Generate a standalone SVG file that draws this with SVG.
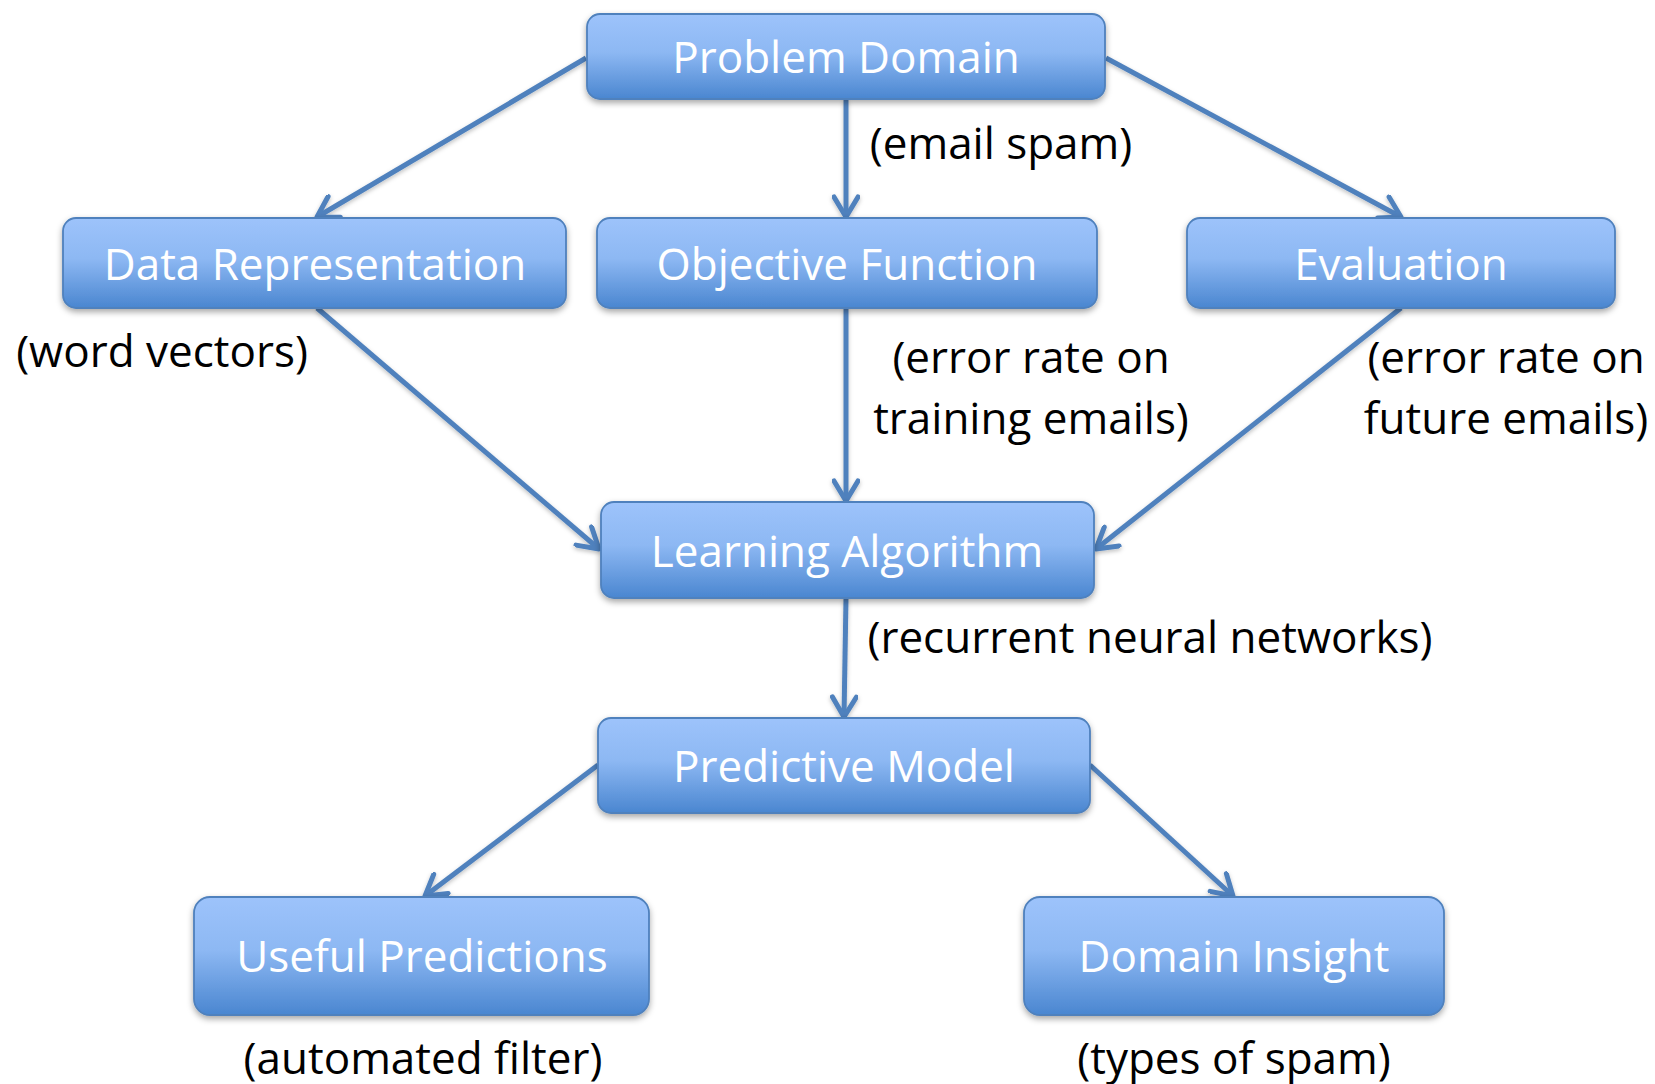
<svg xmlns="http://www.w3.org/2000/svg" width="1655" height="1084" viewBox="0 0 1655 1084">
  <defs>
    <linearGradient id="boxFill" x1="0" y1="0" x2="0" y2="1">
      <stop offset="0" stop-color="#9dc3fb"/>
      <stop offset="0.45" stop-color="#8db8f3"/>
      <stop offset="1" stop-color="#4a86d0"/>
    </linearGradient>
    <filter id="shadow" x="-10%" y="-20%" width="120%" height="150%">
      <feDropShadow dx="0" dy="3" stdDeviation="3" flood-color="#000" flood-opacity="0.35"/>
    </filter>
    <filter id="lineShadow" x="-20%" y="-20%" width="140%" height="140%">
      <feDropShadow dx="0" dy="2" stdDeviation="2" flood-color="#000" flood-opacity="0.25"/>
    </filter>
    <marker id="arrow" markerUnits="userSpaceOnUse" viewBox="0 0 28 28" markerWidth="28" markerHeight="28" refX="24" refY="14" orient="auto">
      <path d="M4,2 L24,14 L4,26" fill="none" stroke="#4f81bd" stroke-width="5" stroke-linecap="round" stroke-linejoin="round"/>
    </marker>
    <style>
      .box { fill: url(#boxFill); stroke: #4f81bd; stroke-width: 1.8; filter: url(#shadow); }
      .title { font-family: "Open Sans", "Noto Sans", sans-serif; font-size: 44px; fill: #ffffff; text-anchor: middle; }
      .note { font-family: "Open Sans", "Noto Sans", sans-serif; font-size: 44px; fill: #000000; text-anchor: middle; }
      .edge { fill: none; stroke: #4f81bd; stroke-width: 5; marker-end: url(#arrow); }
    </style>
  </defs>

  <rect width="1655" height="1084" fill="#ffffff"/>

  <!-- connectors -->
  <g id="connectors" filter="url(#lineShadow)">
    <line class="edge" x1="586" y1="58" x2="317" y2="217"/>
    <line class="edge" x1="846" y1="99" x2="846" y2="217"/>
    <line class="edge" x1="1106" y1="58" x2="1401" y2="217"/>
    <line class="edge" x1="317" y1="308" x2="599" y2="549"/>
    <line class="edge" x1="846" y1="308" x2="846" y2="501"/>
    <line class="edge" x1="1401" y1="308" x2="1096" y2="549"/>
    <line class="edge" x1="846" y1="598" x2="844" y2="717"/>
    <line class="edge" x1="598" y1="765" x2="425" y2="896"/>
    <line class="edge" x1="1090" y1="765" x2="1233" y2="896"/>
  </g>

  <!-- nodes -->
  <g id="problem-domain">
    <rect class="box" x="587" y="14" width="518" height="85" rx="13"/>
    <text class="title" x="846" y="73">Problem Domain</text>
  </g>
  <g id="data-representation">
    <rect class="box" x="63" y="218" width="503" height="90" rx="13"/>
    <text class="title" x="315" y="280">Data Representation</text>
  </g>
  <g id="objective-function">
    <rect class="box" x="597" y="218" width="500" height="90" rx="13"/>
    <text class="title" x="847" y="280">Objective Function</text>
  </g>
  <g id="evaluation">
    <rect class="box" x="1187" y="218" width="428" height="90" rx="13"/>
    <text class="title" x="1401" y="280">Evaluation</text>
  </g>
  <g id="learning-algorithm">
    <rect class="box" x="601" y="502" width="493" height="96" rx="13"/>
    <text class="title" x="847" y="567">Learning Algorithm</text>
  </g>
  <g id="predictive-model">
    <rect class="box" x="598" y="718" width="492" height="95" rx="13"/>
    <text class="title" x="844" y="782">Predictive Model</text>
  </g>
  <g id="useful-predictions">
    <rect class="box" x="194" y="897" width="455" height="118" rx="16"/>
    <text class="title" x="422" y="972">Useful Predictions</text>
  </g>
  <g id="domain-insight">
    <rect class="box" x="1024" y="897" width="420" height="118" rx="16"/>
    <text class="title" x="1234" y="972">Domain Insight</text>
  </g>

  <!-- annotations -->
  <g id="notes">
    <text class="note" x="1001" y="159">(email spam)</text>
    <text class="note" x="162" y="367">(word vectors)</text>
    <text class="note" x="1031" y="373">(error rate on</text>
    <text class="note" x="1031" y="434">training emails)</text>
    <text class="note" x="1506" y="373">(error rate on</text>
    <text class="note" x="1506" y="434">future emails)</text>
    <text class="note" x="1150" y="653">(recurrent neural networks)</text>
    <text class="note" x="423" y="1074">(automated filter)</text>
    <text class="note" x="1234" y="1074">(types of spam)</text>
  </g>
</svg>
